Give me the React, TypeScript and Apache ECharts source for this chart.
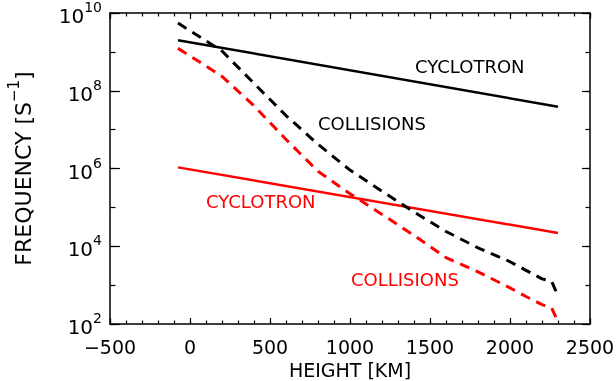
import React, { useEffect, useRef } from "react";
import * as echarts from "echarts";

const FONT = "DejaVu Sans";

// Heights (km) and frequencies (s^-1)
const cyclotronHeights = [-75, 2300];
const electronCyclotron = [2.0e9, 3.9e7];
const ionCyclotron = [1.07e6, 2.2e4];

const collisionHeights = [-75, 0, 200, 400, 600, 800, 1000, 1200, 1400, 1600, 1800, 2000, 2100, 2200, 2260, 2300];
const electronCollisions = [5.5e9, 3.5e9, 1.05e9, 1.55e8, 2.3e7, 4.2e6, 9.1e5, 2.6e5, 7.6e4, 2.4e4, 9.1e3, 4.0e3, 2.4e3, 1.45e3, 1.26e3, 525];
const ionCollisions = [1.23e9, 7.9e8, 2.34e8, 4.1e7, 5.6e6, 8.5e5, 2.24e5, 6.6e4, 1.9e4, 5.1e3, 2.2e3, 850, 510, 316, 263, 112];

const xMin = -500;
const xMax = 2500;
const xStep = 500;
const xMinorStep = 100;
const yMin = 1e2;
const yMax = 1e10;

const zip = (xs: number[], ys: number[]) => xs.map((x, i) => [x, ys[i]]);

export default function App() {
  const ref = useRef<HTMLDivElement>(null);
  useEffect(() => {
    if (!ref.current) return;
    const chart = echarts.init(ref.current, null, { renderer: "svg" });
    const axisLine = { show: true, onZero: false, lineStyle: { color: "#000", width: 1.5 } };
    const noLine = { show: false, onZero: false };
    const tick = (len: number) => ({ show: true, inside: true, length: len, lineStyle: { color: "#000", width: 1.2 } });
    const xBase = { type: "value" as const, min: xMin, max: xMax, splitLine: { show: false } };
    const yBase = { type: "log" as const, min: yMin, max: yMax, splitLine: { show: false } };
    chart.setOption({
      animation: false,
      grid: { left: 110, right: 26, top: 13, bottom: 57, outerBoundsMode: "none" },
      xAxis: [
        {
          ...xBase, interval: xStep, position: "bottom", axisLine, axisTick: tick(6),
          name: "HEIGHT [KM]", nameLocation: "middle", nameGap: 35,
          nameTextStyle: { fontFamily: FONT, fontSize: 19, color: "#000" },
          axisLabel: { fontFamily: FONT, fontSize: 19, color: "#000", margin: 13,
            formatter: (v: number) => (v < 0 ? "\u2212" + Math.abs(v) : String(v)) },
        },
        { ...xBase, interval: xMinorStep, position: "bottom", axisLine: noLine, axisTick: tick(3.5), axisLabel: { show: false } },
        { ...xBase, interval: xStep, position: "top", axisLine, axisTick: tick(6), axisLabel: { show: false } },
        { ...xBase, interval: xMinorStep, position: "top", axisLine: noLine, axisTick: tick(3.5), axisLabel: { show: false } },
      ],
      yAxis: [
        {
          ...yBase, position: "left", interval: 2, axisLine, axisTick: tick(10),
          axisLabel: {
            margin: 8,
            formatter: (v: number) => `{b|10}{s|${Math.round(Math.log10(v))}}`,
            rich: {
              b: { fontFamily: FONT, fontSize: 20, color: "#000", lineHeight: 26, verticalAlign: "bottom" },
              s: { fontFamily: FONT, fontSize: 14, color: "#000", lineHeight: 14, verticalAlign: "top" },
            },
          },
          name: "{a|FREQUENCY [S}{s|\u22121}{a|]}", nameLocation: "middle", nameGap: 76,
          nameTextStyle: { rich: {
            a: { fontFamily: FONT, fontSize: 22, color: "#000", lineHeight: 28, verticalAlign: "bottom" },
            s: { fontFamily: FONT, fontSize: 15, color: "#000", lineHeight: 15, verticalAlign: "top" },
          } },
        },
        { ...yBase, position: "left", interval: 1, axisLine: noLine, axisTick: tick(5.5), axisLabel: { show: false } },
        { ...yBase, position: "right", interval: 2, axisLine, axisTick: tick(8), axisLabel: { show: false } },
        { ...yBase, position: "right", interval: 1, axisLine: noLine, axisTick: tick(4.5), axisLabel: { show: false } },
      ],
      series: [
        { type: "line", data: zip(cyclotronHeights, electronCyclotron), symbol: "none", lineStyle: { color: "#000", width: 2.5 } },
        { type: "line", data: zip(cyclotronHeights, ionCyclotron), symbol: "none", lineStyle: { color: "#ff0000", width: 2.5 } },
        { type: "line", data: zip(collisionHeights, electronCollisions), symbol: "none", lineStyle: { color: "#000", width: 3, type: [10, 7] } },
        { type: "line", data: zip(collisionHeights, ionCollisions), symbol: "none", lineStyle: { color: "#ff0000", width: 3, type: [10, 7] } },
      ],
      graphic: [
        { type: "text", left: 415, top: 57, style: { text: "CYCLOTRON", fontFamily: FONT, fontSize: 18, fill: "#000" } },
        { type: "text", left: 318, top: 114, style: { text: "COLLISIONS", fontFamily: FONT, fontSize: 18, fill: "#000" } },
        { type: "text", left: 206, top: 192, style: { text: "CYCLOTRON", fontFamily: FONT, fontSize: 18, fill: "#ff0000" } },
        { type: "text", left: 351, top: 270, style: { text: "COLLISIONS", fontFamily: FONT, fontSize: 18, fill: "#ff0000" } },
      ],
    });
    return () => chart.dispose();
  }, []);
  return <div ref={ref} style={{ position: "fixed", left: 0, top: 0, width: 616, height: 381 }} />;
}
